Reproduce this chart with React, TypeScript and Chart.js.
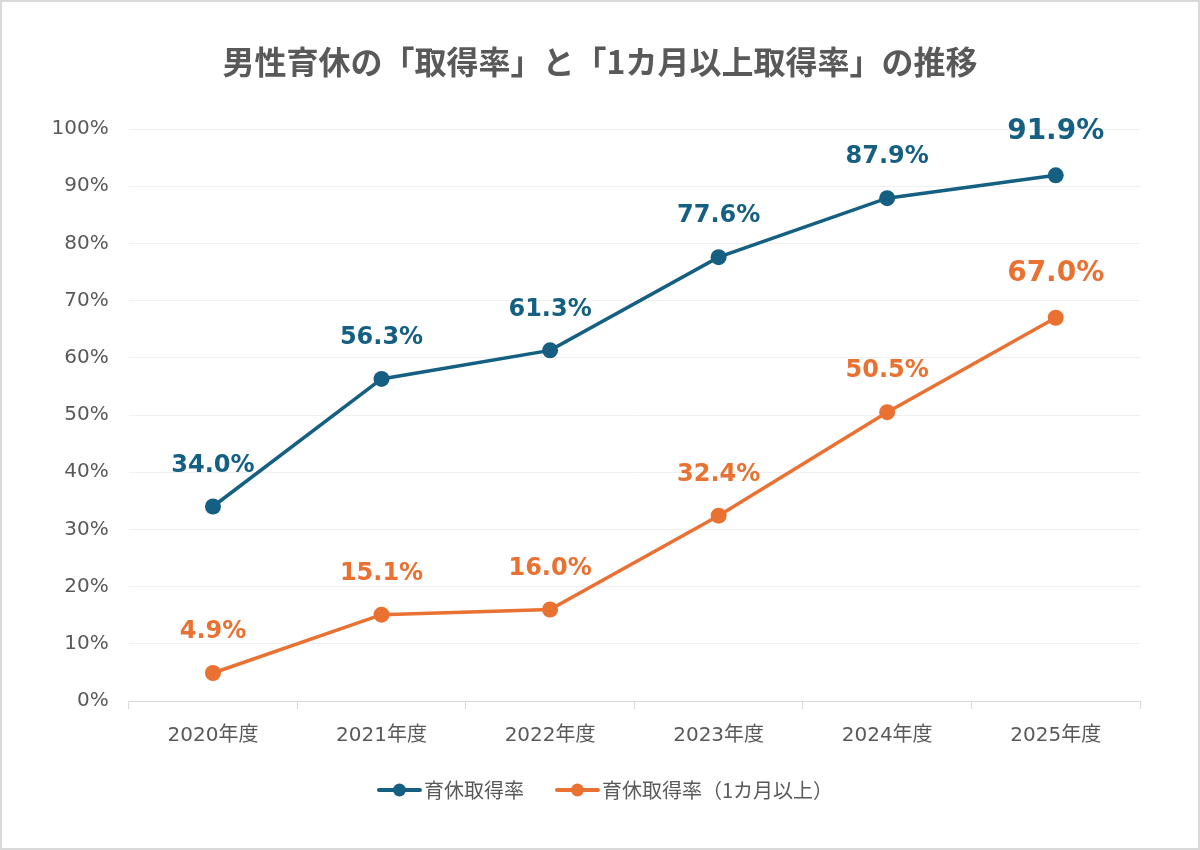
import React, { useEffect, useRef } from 'react';
import { Chart, registerables } from 'chart.js';

Chart.register(...registerables);

const chartTitle = '男性育休の「取得率」と「1カ月以上取得率」の推移';
const categories = ['2020年度', '2021年度', '2022年度', '2023年度', '2024年度', '2025年度'];
const seriesNames = ['育休取得率', '育休取得率（1カ月以上）'];
const takeRate = [34.0, 56.3, 61.3, 77.6, 87.9, 91.9];
const monthPlusRate = [4.9, 15.1, 16.0, 32.4, 50.5, 67.0];
const seriesColors = ['#156082', '#E97132'];
const yMin = 0;
const yMax = 100;
const yStep = 10;

const W = 1200;
const H = 850;
const GRAY = '#595959';
const LATIN = '"DejaVu Sans", "Noto Sans CJK JP", sans-serif';
const CJK = '"Noto Sans CJK JP", "DejaVu Sans", sans-serif';

const framePlugin = {
  id: 'frame',
  beforeDraw(chart: any) {
    const ctx = chart.ctx;
    ctx.save();
    ctx.fillStyle = '#ffffff';
    ctx.fillRect(0, 0, chart.width, chart.height);
    ctx.strokeStyle = '#d9d9d9';
    ctx.lineWidth = 2;
    ctx.strokeRect(1, 1, chart.width - 2, chart.height - 2);
    ctx.restore();
  },
};

const titlePlugin = {
  id: 'customTitle',
  afterDraw(chart: any) {
    const ctx = chart.ctx;
    ctx.save();
    ctx.fillStyle = GRAY;
    ctx.font = `bold 32px ${CJK}`;
    ctx.textAlign = 'center';
    ctx.textBaseline = 'middle';
    ctx.fillText(chartTitle, chart.width / 2, 62);
    ctx.restore();
  },
};

const labelPlugin = {
  id: 'valueLabels',
  afterDatasetsDraw(chart: any) {
    const ctx = chart.ctx;
    ctx.save();
    ctx.textAlign = 'center';
    ctx.textBaseline = 'middle';
    chart.data.datasets.forEach((ds: any, di: number) => {
      const meta = chart.getDatasetMeta(di);
      meta.data.forEach((pt: any, i: number) => {
        const last = i === ds.data.length - 1;
        ctx.font = `bold ${last ? 28 : 24}px ${LATIN}`;
        ctx.fillStyle = seriesColors[di];
        ctx.fillText(ds.data[i].toFixed(1) + '%', pt.x, pt.y - (last ? 44 : 41));
      });
    });
    ctx.restore();
  },
};

const legendPlugin = {
  id: 'customLegend',
  afterDraw(chart: any) {
    const ctx = chart.ctx;
    ctx.save();
    ctx.font = `20px ${CJK}`;
    const lineW = 41;
    const gapText = 4;
    const gapItems = 33;
    const widths = seriesNames.map((n) => ctx.measureText(n).width);
    const total = widths.reduce((a, b) => a + b, 0) + seriesNames.length * (lineW + gapText) + gapItems * (seriesNames.length - 1);
    let x = chart.width / 2 - total / 2 + 6;
    const y = 790;
    seriesNames.forEach((n, i) => {
      ctx.strokeStyle = seriesColors[i];
      ctx.lineWidth = 4;
      ctx.lineCap = 'round';
      ctx.beginPath();
      ctx.moveTo(x, y);
      ctx.lineTo(x + lineW, y);
      ctx.stroke();
      ctx.fillStyle = seriesColors[i];
      ctx.beginPath();
      ctx.arc(x + lineW / 2, y, 6.5, 0, Math.PI * 2);
      ctx.fill();
      ctx.fillStyle = GRAY;
      ctx.textAlign = 'left';
      ctx.textBaseline = 'middle';
      ctx.fillText(n, x + lineW + gapText, y);
      x += lineW + gapText + widths[i] + gapItems;
    });
    ctx.restore();
  },
};

export default function App() {
  const ref = useRef<HTMLCanvasElement | null>(null);

  useEffect(() => {
    document.body.style.margin = '0';
    const canvas = ref.current;
    if (!canvas) return;
    const chart = new Chart(canvas, {
      type: 'line',
      data: {
        labels: categories,
        datasets: [takeRate, monthPlusRate].map((d, i) => ({
          label: seriesNames[i],
          data: d,
          borderColor: seriesColors[i],
          backgroundColor: seriesColors[i],
          borderWidth: 3.5,
          pointRadius: 8,
          pointHoverRadius: 8,
          pointBackgroundColor: seriesColors[i],
          pointBorderColor: seriesColors[i],
          pointBorderWidth: 0,
          tension: 0,
          fill: false,
        })),
      },
      options: {
        responsive: false,
        animation: false,
        devicePixelRatio: 1,
        events: [],
        layout: { padding: { top: 129, right: 60, bottom: 0, left: 0 } },
        plugins: {
          legend: { display: false },
          title: { display: false },
          tooltip: { enabled: false },
        },
        scales: {
          x: {
            type: 'category',
            offset: true,
            grid: {
              offset: true,
              drawOnChartArea: false,
              drawTicks: true,
              tickLength: 8,
              color: '#d9d9d9',
            },
            border: { display: true, color: '#d9d9d9', width: 1 },
            ticks: {
              color: GRAY,
              font: { family: LATIN, size: 20 },
              padding: 15,
              maxRotation: 0,
              autoSkip: false,
            },
            afterFit: (s: any) => {
              s.height = 149;
            },
          },
          y: {
            min: yMin,
            max: yMax,
            grid: { color: '#f0f0f0', drawTicks: false },
            border: { display: false },
            ticks: {
              stepSize: yStep,
              color: GRAY,
              font: { family: LATIN, size: 20 },
              padding: 20,
              callback: (v: any) => v + '%',
            },
            afterFit: (s: any) => {
              s.width = 128.7;
            },
          },
        },
      },
      plugins: [framePlugin, labelPlugin, titlePlugin, legendPlugin],
    } as any);
    return () => chart.destroy();
  }, []);

  return (
    <div style={{ width: W, height: H }}>
      <canvas ref={ref} width={W} height={H} style={{ display: 'block', width: W, height: H }} />
    </div>
  );
}
